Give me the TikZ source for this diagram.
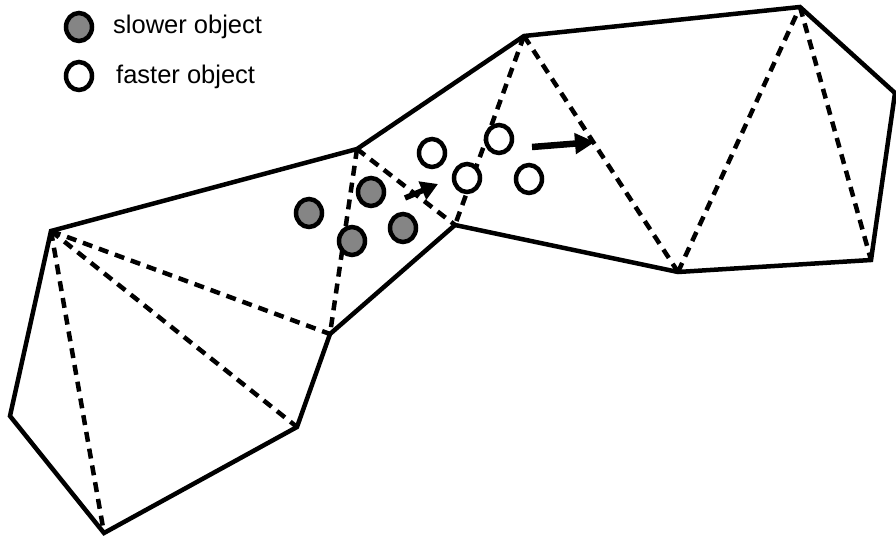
\documentclass[tikz,border=0pt]{standalone}
\usepackage{fontspec}
\setmainfont{Liberation Sans}
\usetikzlibrary{arrows.meta,shapes.geometric}
\begin{document}
\begin{tikzpicture}[x=1pt,y=-1pt,
  edge/.style={line width=4.5pt, line join=miter},
  tri/.style={line width=4.5pt, dash pattern=on 10pt off 7pt},
  obj/.style={ellipse, draw, line width=4.5pt, minimum width=26pt, minimum height=28pt, inner sep=0pt},
  slowobj/.style={obj, fill=black!48},
  fastobj/.style={obj, fill=white},
  motion/.style={line width=5.5pt, -{Triangle[length=17pt,width=19pt]}},
  bigmotion/.style={line width=6.5pt, -{Triangle[length=20pt,width=20pt]}},
  lbl/.style={anchor=west, inner sep=0pt, font=\fontsize{25.5}{30}\selectfont}
]
\useasboundingbox (0,0) rectangle (896,537);
% polygon vertices
\coordinate (A) at (51,231);
\coordinate (B) at (10,416);
\coordinate (C) at (104,533);
\coordinate (D) at (297,427);
\coordinate (E) at (330,334);
\coordinate (F) at (455,225);
\coordinate (G) at (678,272);
\coordinate (H) at (871,260);
\coordinate (I) at (895,93);
\coordinate (J) at (800,7);
\coordinate (K) at (524,36);
\coordinate (L) at (357,149);
% triangulation
\draw[tri] (A) -- (C);
\draw[tri] (A) -- (D);
\draw[tri] (A) -- (E);
\draw[tri] (L) -- (E);
\draw[tri] (L) -- (F);
\draw[tri] (K) -- (F);
\draw[tri] (K) -- (G);
\draw[tri] (G) -- (J);
\draw[tri] (J) -- (H);
% outline
\draw[edge] (A) -- (B) -- (C) -- (D) -- (E) -- (F) -- (G) -- (H) -- (I) -- (J) -- (K) -- (L) -- cycle;
% objects
\node[slowobj] (s1) at (309,213) {};
\node[slowobj] (s2) at (371,192) {};
\node[slowobj] (s3) at (352,241) {};
\node[slowobj] (s4) at (403,228) {};
\node[fastobj] (f1) at (432,153) {};
\node[fastobj] (f2) at (467,178) {};
\node[fastobj] (f3) at (499,139) {};
\node[fastobj] (f4) at (529,179) {};
% motion arrows
\coordinate (a1s) at (405,198);
\coordinate (a1e) at (438,184);
\coordinate (a2s) at (532,147);
\coordinate (a2e) at (595,142);
\draw[motion] (a1s) -- (a1e);
\draw[bigmotion] (a2s) -- (a2e);
% legend
\node[slowobj] (ls) at (79,27) {};
\node[fastobj] (lf) at (79,76) {};
\node[lbl] (lst) at (113,27) {slower object};
\node[lbl] (lft) at (116,77) {faster object};
\end{tikzpicture}
\end{document}
